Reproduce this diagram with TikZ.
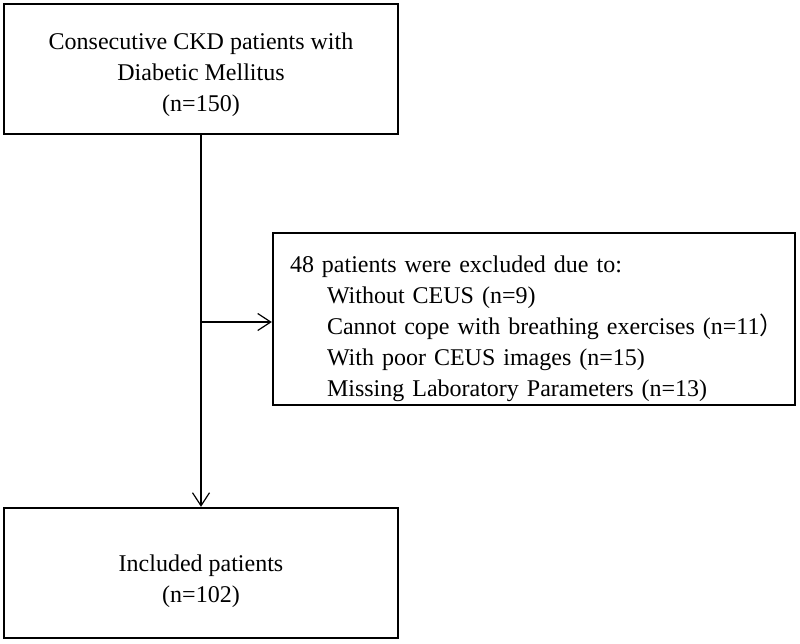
\documentclass[tikz,border=0pt]{standalone}
\usepackage{fontspec}
\setmainfont{Liberation Serif}
\newfontfamily\cjk{Noto Sans CJK SC}
\usetikzlibrary{arrows.meta}
\newcommand{\topgap}[1]{\rule{0pt}{#1}}

\begin{document}
\begin{tikzpicture}[x=1pt, y=-1pt]
  \tikzset{flowbox/.style={draw, line width=2.4pt, align=center, inner sep=0pt,
                           font=\fontsize{24}{31}\selectfont},
           flowline/.style={line width=1.2pt, -{Straight Barb[length=13pt,width=17pt,line width=1.2pt]}}}
  \useasboundingbox (0,0) rectangle (800,643);
  \node[flowbox, minimum width=394pt, minimum height=130pt] (start) at (201,69)
    {\topgap{28pt}Consecutive CKD patients with\\Diabetic Mellitus\\(n=150)};
  \node[flowbox, minimum width=394pt, minimum height=130pt] (incl) at (201,573)
    {\topgap{34pt}Included patients\\(n=102)};
  \node[flowbox, align=left, text width=488pt, minimum height=172pt, inner xsep=17pt] (excl) at (534,319)
    {\topgap{36pt}48 patients were excluded due to:\\
     \hspace*{37pt}Without CEUS (n=9)\\
     \hspace*{37pt}\mbox{Cannot cope with breathing exercises (n=11{\cjk ）}}\\
     \hspace*{37pt}With poor CEUS images (n=15)\\
     \hspace*{37pt}Missing Laboratory Parameters (n=13)};
  \coordinate (split) at (201,322);
  \draw[flowline] (start.south) -- (incl.north);
  \draw[flowline] (split) -- (split -| excl.west);
\end{tikzpicture}
\end{document}
